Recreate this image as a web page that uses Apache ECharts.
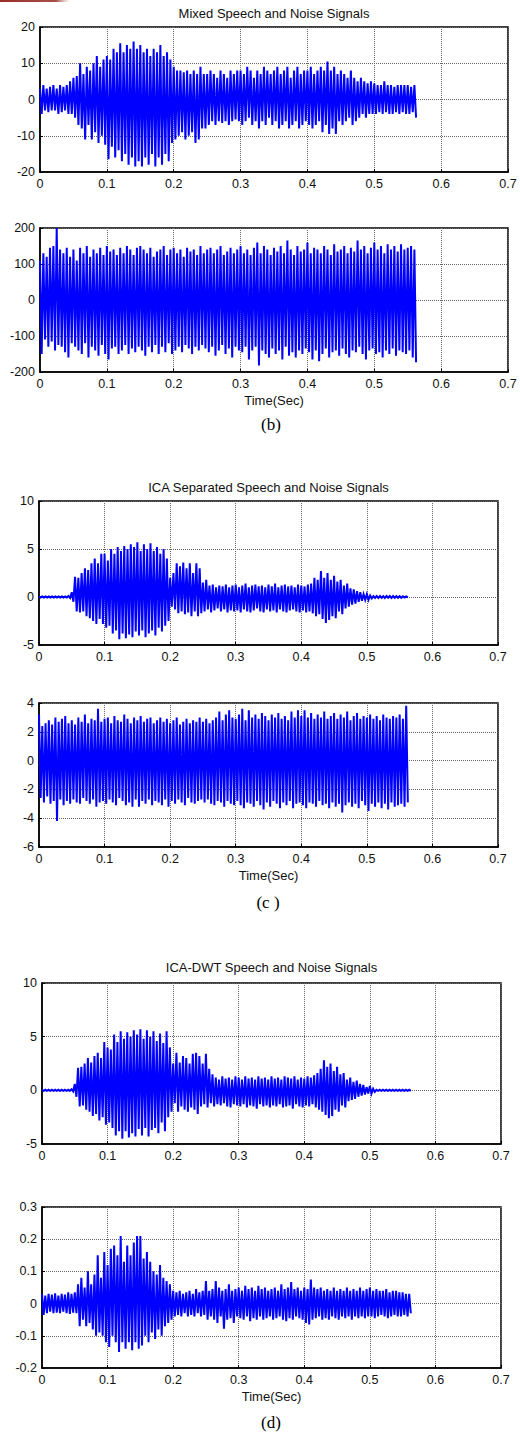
<!DOCTYPE html>
<html>
<head>
<meta charset="utf-8">
<script src="https://cdn.jsdelivr.net/npm/echarts@6/dist/echarts.min.js"></script>
<style>
html,body{margin:0;padding:0;background:#fff;}
#chart{width:520px;height:1442px;}
</style>
</head>
<body>
<div id="chart"></div>
<script>
// Sampling step (s) of the envelope readings; each step holds one upper and one lower peak
const STEP = 0.005;
const xTicks = [0, 0.1, 0.2, 0.3, 0.4, 0.5, 0.6, 0.7];
const titles = ['Mixed Speech and Noise Signals', 'ICA Separated Speech and Noise Signals', 'ICA-DWT Speech and Noise Signals'];
const captions = ['(b)', '(c )', '(d)'];
const xName = 'Time(Sec)';

// Panel 1: mixed speech + noise
const mixHi = [3,4,3,3.5,4,3,4,3.5,4,5,
  6,6.5,10,7,9,8,10,12,9,11,
  12,11,14,13,15.5,13,15,14,16,14,
  15,13,14,12,14,13,15,12,13,11,
  9,8,8,7.5,8,7,8,7,9,7,
  7,8,7,6,8,7,6,8,7,8,
  8,7,9,8,6,8,7,9,8,7,
  8,9,7,8,9,6,8,9,7,8,
  8,9,7,8,9,8,10.5,8,9,7,
  8,7,6,8,6,5,6,5,4.5,5,
  4.5,4,4,5,4,4,3.5,4,4,4,
  4,3.5,4];
const mixLo = [-4,-3,-3.5,-3,-3,-4,-3.5,-3,-4,-4,
  -5,-7,-8,-11,-7,-11,-9,-12,-10,-12.5,
  -16.5,-13,-16,-14,-17,-15,-18,-16,-18.5,-17,
  -18.5,-16,-18,-15,-18.5,-16,-18,-15,-17,-12,
  -11,-10,-9,-11,-10,-9,-12,-11,-8,-8,
  -7,-6,-7,-6,-6.5,-6,-7,-6,-5.5,-6,
  -7,-6,-5,-7,-6,-8,-6,-7,-5,-7,
  -6,-8,-7,-6,-8,-7,-6,-8,-7,-6,
  -7,-8,-7,-6,-9,-7,-9.5,-8,-9.5,-6,
  -7,-6,-5,-7,-6,-5,-4,-5,-4,-4,
  -4,-3.5,-4,-3.5,-4,-4,-3.5,-4,-3.5,-4,
  -4,-3.5,-5];

// Panel 2: noise signal (mixture 2)
const noiseHi = [110,130,120,145,150,200,140,130,145,120,
  140,110,145,130,150,120,140,130,145,125,
  150,135,140,125,145,130,150,140,125,145,
  150,140,130,145,120,135,140,150,125,140,
  145,130,140,120,145,135,140,125,150,130,
  140,145,130,140,150,125,135,145,130,140,
  150,130,140,125,145,160,130,150,140,125,
  145,135,150,130,165,140,125,150,135,140,
  160,130,145,140,130,150,140,125,155,135,
  140,150,130,145,135,165,140,150,130,145,
  160,140,150,130,155,140,150,135,155,140,
  145,150,140];
const noiseLo = [-150,-110,-130,-115,-140,-125,-130,-145,-160,-120,
  -130,-140,-150,-120,-160,-130,-140,-155,-125,-150,
  -165,-135,-130,-150,-140,-125,-150,-135,-145,-130,
  -140,-155,-130,-145,-125,-150,-130,-145,-120,-150,
  -140,-130,-145,-125,-135,-150,-130,-140,-125,-135,
  -145,-130,-155,-140,-125,-150,-135,-160,-130,-140,
  -145,-130,-165,-140,-130,-182,-140,-150,-160,-135,
  -150,-140,-165,-130,-155,-145,-160,-140,-150,-135,
  -145,-165,-140,-170,-150,-135,-160,-145,-140,-155,
  -135,-150,-160,-140,-145,-130,-150,-165,-140,-135,
  -150,-145,-160,-140,-150,-135,-155,-140,-145,-150,
  -140,-160,-173];

// Panel 3: ICA separated speech
const icaSpHi = [0.05,0.05,0.05,0.05,0.05,0.05,0.05,0.05,0.05,0.1,
  0.5,2.1,2,2.5,3,2.8,3.5,4,3.5,4.5,
  4.5,3.8,5,4.5,5.2,4.8,5.3,5,5.5,5.2,
  5.7,4.8,5.5,5,5.6,4.8,5.2,4.5,5,4,
  2,2.5,3.5,3.2,3.6,3,3.5,2.5,3.5,3,
  1.5,1.8,1.2,1.3,1,1.2,1.1,1.3,1,1.2,
  1.3,1,1.2,1.4,1,1.2,1.3,1.1,1.2,1,
  1.3,1.1,1.4,1,1.2,1.3,1.1,1.2,1,1.3,
  1.2,1.1,1.3,1.4,2,1.8,2.7,2,2.5,1.8,
  2.2,1.6,1.8,1.2,1.4,0.9,0.8,0.6,0.5,0.3,
  0.3,0.15,0.1,0.1,0.1,0.08,0.1,0.1,0.1,0.08,
  0.08,0.08,0.05];
const icaSpLo = [-0.05,-0.05,-0.05,-0.05,-0.05,-0.05,-0.05,-0.05,-0.05,-0.1,
  -0.5,-1.5,-1.6,-1.5,-2,-2.2,-2.5,-2.8,-2.3,-2.8,
  -3.2,-3,-3.8,-3.5,-4.4,-3.8,-4.3,-3.9,-4.2,-3.6,
  -4,-3.5,-4.2,-3.8,-3.5,-4,-3.2,-3.6,-3,-2.5,
  -1,-1.3,-1.7,-1.5,-1.8,-1.6,-2,-1.5,-2,-1.7,
  -1.5,-1.3,-1.6,-1.4,-1.2,-1.5,-1.3,-1.6,-1.4,-1.5,
  -1.4,-1.6,-1.3,-1.5,-1.6,-1.4,-1.2,-1.5,-1.6,-1.3,
  -1.5,-1.4,-1.6,-1.3,-1.5,-1.6,-1.4,-1.3,-1.5,-1.6,
  -1.4,-1.6,-1.5,-1.7,-2,-1.8,-2.3,-2.7,-2.4,-2,
  -2.2,-1.5,-1.8,-1.2,-1,-0.8,-0.7,-0.5,-0.4,-0.3,
  -0.3,-0.15,-0.1,-0.1,-0.08,-0.1,-0.08,-0.1,-0.08,-0.08,
  -0.08,-0.05,-0.05];

// Panel 4: ICA separated noise
const icaNzHi = [3.2,2.4,2.6,2.8,2.5,3,2.7,2.9,3.1,2.6,
  2.8,2.5,3,2.7,3.2,2.6,2.9,2.8,3.6,2.7,
  2.9,3,2.6,3.1,2.8,2.7,3.2,2.9,2.6,3,
  2.8,3.1,2.7,2.9,3,2.6,2.8,3,2.7,2.9,
  2.6,2.8,3,2.5,2.7,2.9,2.6,2.8,2.7,3,
  2.7,2.9,2.6,2.8,3,3.4,2.8,3.2,3.5,3,
  2.9,3.2,3.6,2.8,3.5,3,3.2,2.9,3.3,3.1,
  2.8,3.2,3,3.3,2.9,3.1,2.8,3.4,3,3.5,
  3.1,3.5,3,3.3,2.9,3.2,3,3.4,2.9,3.1,
  3.3,2.9,3.2,3,3.4,2.8,3.1,3.3,2.9,3.1,
  3,3.2,2.9,3.1,2.8,3.2,3,2.9,3.1,3,
  3.2,2.9,3.8];
const icaNzLo = [-2.6,-2.9,-2.5,-3,-2.8,-4.2,-2.7,-3.1,-2.8,-3,
  -2.7,-2.9,-3,-2.6,-2.8,-3,-2.7,-3.2,-2.9,-2.8,
  -3,-2.7,-2.9,-3.1,-2.6,-2.8,-3.1,-2.9,-3.2,-2.7,
  -3.2,-2.8,-3,-2.7,-3.1,-2.8,-2.9,-3.1,-2.7,-3.2,
  -2.8,-3,-2.7,-2.9,-3.1,-2.6,-2.9,-3,-2.8,-2.7,
  -2.9,-2.7,-3,-3.1,-2.8,-2.9,-3.2,-2.8,-3,-3.1,
  -2.8,-3.1,-3.3,-2.9,-3,-3.2,-2.8,-3.1,-3.4,-2.9,
  -3.2,-2.8,-3,-3.3,-2.9,-3.1,-2.8,-3.3,-3,-2.9,
  -3.1,-3.3,-2.9,-3,-3.2,-2.8,-3.1,-3,-3.3,-2.9,
  -3.2,-3,-3.6,-3.1,-2.9,-3.2,-3,-3.3,-2.8,-3.1,
  -3.5,-3,-3.2,-2.9,-3.3,-3,-3.4,-2.9,-3.2,-3.1,
  -3,-3.2,-2.9];

// Panel 5: ICA-DWT speech
const dwtSpHi = [0.05,0.05,0.05,0.05,0.05,0.05,0.05,0.05,0.05,0.1,
  0.6,2.1,2.2,2.5,3,2.6,3.2,3.5,3,4.5,
  4,3.8,5.2,4.5,5.5,4.8,5.4,5,5.6,5.2,
  5.7,4.8,5.6,5,5.5,4.6,5.3,4.4,5.5,4,
  2.5,3.5,2.6,3.2,3,2.5,3.4,3.5,3.2,2.5,
  3.4,2,1.5,1.2,1,1.3,1.1,1.2,1,1.3,
  1.2,1,1.3,1.1,1.2,1,1.3,1.1,1.2,1,
  1.3,1.1,1.2,1,1.3,1.2,1.1,1.3,1,1.2,
  1.1,1.3,1.2,1.4,1.6,2,2.8,2.2,2.5,1.8,
  2.2,1.5,1.6,1,1.2,0.8,0.9,0.6,0.5,0.3,
  0.4,0.15,0.05,0.05,0.05,0.05,0.05,0.05,0.05,0.05,
  0.05,0.05,0.05];
const dwtSpLo = [-0.05,-0.05,-0.05,-0.05,-0.05,-0.05,-0.05,-0.05,-0.05,-0.1,
  -0.6,-1.5,-1.4,-1.8,-2,-2.4,-2.2,-2.8,-2.5,-3.2,
  -3,-3.5,-4.2,-3.8,-4.5,-3.8,-4.4,-4,-4.3,-3.6,
  -4.2,-3.5,-4.3,-3.7,-3.5,-4,-3,-3.8,-2.5,-2,
  -1.2,-2,-1.5,-1.8,-2,-1.6,-1.8,-2.2,-1.5,-1.3,
  -1.6,-1.2,-1.5,-1.3,-1.4,-1.2,-1.5,-1.6,-1.3,-1.4,
  -1.5,-1.3,-1.6,-1.4,-1.5,-1.7,-1.3,-1.5,-1.4,-1.6,
  -1.4,-1.5,-1.3,-1.6,-1.5,-1.4,-1.7,-1.3,-1.5,-1.6,
  -1.4,-1.5,-1.3,-1.6,-1.8,-2,-2.3,-2.6,-2.4,-1.8,
  -2,-1.4,-1.6,-1,-0.9,-0.8,-0.6,-0.5,-0.4,-0.3,
  -0.3,-0.15,-0.05,-0.05,-0.05,-0.05,-0.05,-0.05,-0.05,-0.05,
  -0.05,-0.05,-0.05];

// Panel 6: ICA-DWT noise
const dwtNzHi = [0.03,0.025,0.03,0.028,0.032,0.025,0.03,0.028,0.035,0.03,
  0.035,0.06,0.08,0.05,0.1,0.06,0.09,0.15,0.08,0.16,
  0.12,0.17,0.18,0.15,0.21,0.13,0.18,0.15,0.19,0.21,
  0.21,0.14,0.16,0.13,0.1,0.09,0.12,0.08,0.07,0.06,
  0.04,0.035,0.04,0.03,0.035,0.04,0.03,0.045,0.035,0.04,
  0.07,0.04,0.045,0.07,0.05,0.04,0.045,0.06,0.04,0.045,
  0.05,0.04,0.055,0.045,0.05,0.04,0.055,0.045,0.05,0.04,
  0.045,0.05,0.04,0.06,0.045,0.05,0.067,0.045,0.05,0.04,
  0.05,0.045,0.075,0.05,0.045,0.05,0.04,0.045,0.04,0.05,
  0.04,0.045,0.04,0.05,0.04,0.045,0.04,0.05,0.04,0.045,
  0.05,0.04,0.045,0.04,0.04,0.045,0.035,0.04,0.04,0.035,
  0.035,0.03,0.03];
const dwtNzLo = [-0.035,-0.03,-0.025,-0.03,-0.028,-0.03,-0.025,-0.03,-0.032,-0.028,
  -0.03,-0.07,-0.05,-0.07,-0.06,-0.08,-0.1,-0.09,-0.1,-0.12,
  -0.135,-0.1,-0.12,-0.15,-0.12,-0.14,-0.12,-0.145,-0.12,-0.14,
  -0.13,-0.1,-0.12,-0.09,-0.11,-0.08,-0.1,-0.07,-0.06,-0.05,
  -0.04,-0.035,-0.04,-0.03,-0.04,-0.035,-0.04,-0.03,-0.04,-0.035,
  -0.05,-0.04,-0.05,-0.06,-0.04,-0.078,-0.05,-0.045,-0.06,-0.04,
  -0.045,-0.05,-0.04,-0.055,-0.045,-0.05,-0.04,-0.05,-0.045,-0.04,
  -0.05,-0.045,-0.04,-0.05,-0.055,-0.045,-0.05,-0.04,-0.045,-0.05,
  -0.06,-0.065,-0.05,-0.045,-0.04,-0.05,-0.045,-0.05,-0.04,-0.045,
  -0.05,-0.04,-0.045,-0.04,-0.05,-0.04,-0.045,-0.04,-0.045,-0.04,
  -0.04,-0.045,-0.04,-0.035,-0.04,-0.045,-0.04,-0.035,-0.04,-0.04,
  -0.035,-0.04,-0.03];

const yRanges = [[-20,20,10],[-200,200,100],[-5,10,5],[-6,4,2],[-5,10,5],[-0.2,0.3,0.1]];
const panels = [[mixHi,mixLo],[noiseHi,noiseLo],[icaSpHi,icaSpLo],[icaNzHi,icaNzLo],[dwtSpHi,dwtSpLo],[dwtNzHi,dwtNzLo]];

// layout (pixels)
const grids = [
  {left:40, top:27,   width:468, height:145},
  {left:40, top:228,  width:468, height:144},
  {left:39, top:501,  width:459, height:144},
  {left:39, top:703,  width:459, height:144},
  {left:42, top:983,  width:459, height:161},
  {left:42, top:1207, width:459, height:161}
];

function buildWave(hi, lo){
  const d = [];
  for (let i = 0; i < hi.length; i++){
    const t = +(i*STEP).toFixed(4);
    d.push([t, hi[i]]);
    d.push([+(t + STEP/2).toFixed(4), lo[i]]);
  }
  return d;
}
const fmt = v => String(Math.round(v*1000)/1000);
const FONT = 'Liberation Sans, Arial, Helvetica, sans-serif';
const txtColor = '#111';

const option = {
  animation:false,
  backgroundColor:'#fff',
  grid: grids.map(g => Object.assign({show:true, borderColor:'#000', borderWidth:1.5, backgroundColor:'transparent'}, g)),
  xAxis: grids.map((g,i) => ({
    type:'value', gridIndex:i, min:xTicks[0], max:xTicks[xTicks.length-1], interval:0.1,
    name: (i===1||i===3||i===5) ? xName : '',
    nameLocation:'middle', nameGap:22,
    nameTextStyle:{fontFamily:FONT, fontSize:13, color:txtColor},
    axisLine:{show:true, onZero:false, lineStyle:{color:'#000', width:1.5}},
    axisTick:{show:true, inside:true, length:3, lineStyle:{color:'#000'}},
    axisLabel:{margin:5, fontFamily:FONT, fontSize:12.5, color:txtColor, formatter:fmt},
    splitLine:{show:true, lineStyle:{type:'dotted', color:'#666', width:1}}
  })),
  yAxis: grids.map((g,i) => ({
    type:'value', gridIndex:i, min:yRanges[i][0], max:yRanges[i][1], interval:yRanges[i][2],
    axisLine:{show:true, onZero:false, lineStyle:{color:'#000', width:1.5}},
    axisTick:{show:true, inside:true, length:3, lineStyle:{color:'#000'}},
    axisLabel:{margin:5, fontFamily:FONT, fontSize:12.5, color:txtColor, formatter:fmt},
    splitLine:{show:true, lineStyle:{type:'dotted', color:'#666', width:1}}
  })),
  series: panels.map((p,i) => ({
    type:'line', xAxisIndex:i, yAxisIndex:i,
    data: buildWave(p[0], p[1]),
    showSymbol:false, symbol:'none', sampling:null, clip:true,
    lineStyle:{color:'#0000ff', width:2, join:'miter', cap:'butt'},
    emphasis:{disabled:true}, silent:true
  })),
  graphic: [
    {type:'rect', shape:{x:0,y:0,width:70,height:2}, style:{fill:{type:'linear',x:0,y:0,x2:1,y2:0,colorStops:[{offset:0,color:'#9a2f2a'},{offset:0.8,color:'#a8504a'},{offset:1,color:'rgba(200,140,130,0)'}]}}},
    {type:'text', x:274,   y:13,  style:{text:titles[0], textAlign:'center', textVerticalAlign:'middle', fontFamily:FONT, fontSize:13, fill:txtColor}},
    {type:'text', x:268.5, y:487, style:{text:titles[1], textAlign:'center', textVerticalAlign:'middle', fontFamily:FONT, fontSize:13, fill:txtColor}},
    {type:'text', x:271.5, y:967, style:{text:titles[2], textAlign:'center', textVerticalAlign:'middle', fontFamily:FONT, fontSize:13, fill:txtColor}},
    {type:'text', x:271, y:424,  style:{text:captions[0], textAlign:'center', textVerticalAlign:'middle', fontFamily:'Liberation Serif, Times New Roman, serif', fontSize:17, fill:'#000'}},
    {type:'text', x:268, y:902,  style:{text:captions[1], textAlign:'center', textVerticalAlign:'middle', fontFamily:'Liberation Serif, Times New Roman, serif', fontSize:17, fill:'#000'}},
    {type:'text', x:271, y:1422, style:{text:captions[2], textAlign:'center', textVerticalAlign:'middle', fontFamily:'Liberation Serif, Times New Roman, serif', fontSize:17, fill:'#000'}}
  ]
};

const chart = echarts.init(document.getElementById('chart'), null, {renderer:'svg', width:520, height:1442});
chart.setOption(option);
</script>
</body>
</html>
